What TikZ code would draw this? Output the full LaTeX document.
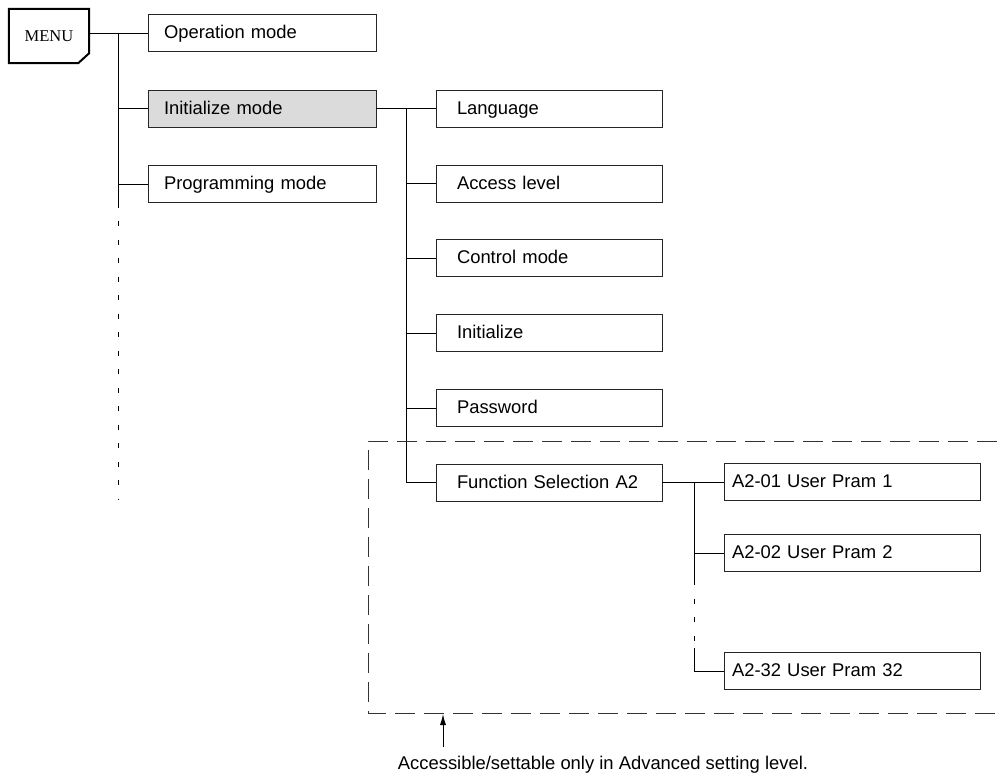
\documentclass[tikz,border=0pt]{standalone}
\usepackage{fontspec}
\setmainfont{Liberation Sans}
\newfontfamily\menufont{Liberation Serif}
\usetikzlibrary{arrows.meta}
\begin{document}
\begin{tikzpicture}[x=1pt,y=-1pt,
  box/.style={draw=black!85, line width=0.9pt, minimum height=37pt, inner ysep=0pt, text height=14.5pt, text depth=3pt, align=left, font=\fontsize{18.4}{20}\selectfont},
  c1/.style={box, text width=196pt, inner xsep=16pt},
  c2/.style={box, text width=184pt, inner xsep=21pt},
  c3/.style={box, text width=240pt, inner xsep=8pt},
  conn/.style={line width=0.9pt, black},
  trunkdash/.style={line width=1pt, dash pattern=on 5pt off 13.5pt},
  areadash/.style={line width=0.9pt, black!80, dash pattern=on 20pt off 9pt}
]
\useasboundingbox (0,0) rectangle (997,776);

% MENU
\node[minimum width=80pt, minimum height=54pt, inner sep=0pt, font=\menufont\fontsize{16.5}{18}\selectfont] (menu) at (49,36) {MENU};
\draw[line width=2pt, line join=miter] (menu.north west) -- (menu.north east) -- ([yshift=10pt]menu.south east) -- ([xshift=-11pt]menu.south east) -- (menu.south west) -- cycle;

% column 1
\node[c1] (op) at (262,33) {Operation mode};
\node[c1, fill=black!14] (init) at (262,108.5) {Initialize mode};
\node[c1] (prog) at (262,184) {Programming mode};

% column 2
\node[c2] (lang) at (549,108.5) {Language};
\node[c2] (acc) at (549,183.5) {Access level};
\node[c2] (ctrl) at (549,258) {Control mode};
\node[c2] (ini) at (549,333) {Initialize};
\node[c2] (pw) at (549,408) {Password};
\node[c2] (fsel) at (549,482.5) {Function Selection A2};

% column 3
\node[c3] (a1) at (852,482) {A2-01 User Pram 1};
\node[c3] (a2) at (852,553) {A2-02 User Pram 2};
\node[c3] (a32) at (852,671) {A2-32 User Pram 32};

% trunk 1
\coordinate (t1) at (118,33);
\coordinate (t1end) at (118,500);
\draw[conn] (menu.east |- op.west) -- (op.west);
\draw[conn] (t1) -- (t1 |- prog.south);
\draw[trunkdash] (t1 |- prog.south) -- (t1end);
\draw[conn] (t1 |- init.west) -- (init.west);
\draw[conn] (t1 |- prog.west) -- (prog.west);

% trunk 2
\coordinate (t2) at (406,108.5);
\draw[conn] (init.east) -- (lang.west);
\draw[conn] (t2) -- (t2 |- fsel.west) -- (fsel.west);
\foreach \n in {acc,ctrl,ini,pw}{
  \draw[conn] (t2 |- \n.west) -- (\n.west);
}

% trunk 3
\coordinate (t3) at (694,482);
\coordinate (t3a) at (694,580);
\coordinate (t3b) at (694,648);
\draw[conn] (fsel.east) -- (fsel.east -| a1.west);
\draw[conn] (t3 |- fsel.east) -- (t3a);
\draw[trunkdash] (t3a) -- (t3b);
\draw[conn] (t3b) -- (t3 |- a32.west) -- (a32.west);
\draw[conn] (t3 |- a2.west) -- (a2.west);

% advanced area
\draw[areadash] (997,441) -- (368,441) -- (368,713) -- (997,713);

% note
\node[font=\fontsize{18.4}{20}\selectfont, inner sep=0pt] (note) at (603,765) {Accessible/settable only in Advanced setting level.};
\coordinate (arrtail) at (443,747);
\coordinate (arrhead) at (443,714);
\draw[conn, -{Latex[length=11pt,width=6pt]}] (arrtail) -- (arrhead);
\end{tikzpicture}
\end{document}
